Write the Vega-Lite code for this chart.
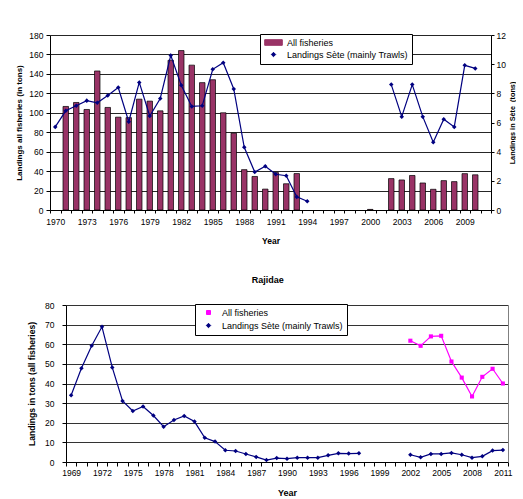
{
  "$schema": "https://vega.github.io/schema/vega-lite/v6.json",
  "background": "white",
  "padding": {"left": 15, "top": 31, "right": 0, "bottom": 0},
  "config": {
    "font": "Liberation Sans",
    "view": {"stroke": null},
    "axis": {
      "labelFont": "Liberation Sans", "titleFont": "Liberation Sans",
      "labelColor": "#000", "titleColor": "#000",
      "domainColor": "#000", "tickColor": "#000", "gridColor": "#000",
      "labelFontSize": 8.5, "titleFontWeight": "bold"
    },
    "legend": {"labelFont": "Liberation Sans", "labelColor": "#000"},
    "title": {"font": "Liberation Sans", "color": "#000"}
  },
  "spacing": 31,
  "resolve": {"scale": {"color": "independent", "shape": "independent"}, "legend": {"color": "independent", "shape": "independent"}},
  "vconcat": [
    {
      "width": 441,
      "height": 175,
      "layer": [
        {
          "data": {"values": [
            {"year": 1971, "tons": 106.5, "series": "All fisheries"},
            {"year": 1972, "tons": 110.6, "series": "All fisheries"},
            {"year": 1973, "tons": 103.4, "series": "All fisheries"},
            {"year": 1974, "tons": 143, "series": "All fisheries"},
            {"year": 1975, "tons": 105.5, "series": "All fisheries"},
            {"year": 1976, "tons": 95.5, "series": "All fisheries"},
            {"year": 1977, "tons": 95, "series": "All fisheries"},
            {"year": 1978, "tons": 114, "series": "All fisheries"},
            {"year": 1979, "tons": 112, "series": "All fisheries"},
            {"year": 1980, "tons": 102, "series": "All fisheries"},
            {"year": 1981, "tons": 154, "series": "All fisheries"},
            {"year": 1982, "tons": 164, "series": "All fisheries"},
            {"year": 1983, "tons": 149, "series": "All fisheries"},
            {"year": 1984, "tons": 131, "series": "All fisheries"},
            {"year": 1985, "tons": 134, "series": "All fisheries"},
            {"year": 1986, "tons": 100, "series": "All fisheries"},
            {"year": 1987, "tons": 79, "series": "All fisheries"},
            {"year": 1988, "tons": 41.5, "series": "All fisheries"},
            {"year": 1989, "tons": 34.5, "series": "All fisheries"},
            {"year": 1990, "tons": 21.5, "series": "All fisheries"},
            {"year": 1991, "tons": 38.5, "series": "All fisheries"},
            {"year": 1992, "tons": 27, "series": "All fisheries"},
            {"year": 1993, "tons": 37.5, "series": "All fisheries"},
            {"year": 2000, "tons": 0.6, "series": "All fisheries"},
            {"year": 2002, "tons": 32.3, "series": "All fisheries"},
            {"year": 2003, "tons": 30.9, "series": "All fisheries"},
            {"year": 2004, "tons": 35.5, "series": "All fisheries"},
            {"year": 2005, "tons": 27.8, "series": "All fisheries"},
            {"year": 2006, "tons": 21.3, "series": "All fisheries"},
            {"year": 2007, "tons": 30.2, "series": "All fisheries"},
            {"year": 2008, "tons": 29.2, "series": "All fisheries"},
            {"year": 2009, "tons": 37.4, "series": "All fisheries"},
            {"year": 2010, "tons": 36.2, "series": "All fisheries"}
          ]},
          "mark": {"type": "bar", "width": 5.5, "stroke": "#000", "strokeWidth": 0.7},
          "encoding": {
            "x": {
              "field": "year", "type": "ordinal",
              "scale": {"type": "band", "paddingInner": 0, "paddingOuter": 0,
                "domain": [1970,1971,1972,1973,1974,1975,1976,1977,1978,1979,1980,1981,1982,1983,1984,1985,1986,1987,1988,1989,1990,1991,1992,1993,1994,1995,1996,1997,1998,1999,2000,2001,2002,2003,2004,2005,2006,2007,2008,2009,2010,2011]},
              "axis": {
                "title": "Year", "titleFontSize": 8.5, "titlePadding": 11,
                "labelAngle": 0, "tickBand": "extent", "labelOverlap": false,
                "labelExpr": "(datum.value - 1970) % 3 == 0 ? datum.label : ''",
                "tickSize": 3, "labelPadding": 4, "grid": false
              }
            },
            "y": {
              "field": "tons", "type": "quantitative",
              "scale": {"domain": [0, 180]},
              "axis": {
                "title": "Landings all fisheries (in tons)", "titleFontSize": 8,
                "values": [0,20,40,60,80,100,120,140,160,180],
                "grid": true, "gridColor": "#000", "gridWidth": 1, "gridOpacity": 0.85,
                "tickSize": 4, "labelPadding": 3, "titlePadding": 5
              }
            },
            "color": {
              "field": "series", "type": "nominal",
              "scale": {"domain": ["All fisheries", "Landings Sète (mainly Trawls)"], "range": ["#993366", "#000080"]},
              "legend": {
                "title": null, "orient": "none", "legendX": 210, "legendY": -1,
                "fillColor": "#fff", "strokeColor": "#000", "padding": 4,
                "labelFontSize": 9, "symbolSize": 64, "symbolStrokeWidth": 1,
                "rowPadding": 2, "labelOffset": 9, "symbolOffset": 5
              }
            }
          }
        },
        {
          "data": {"values": [
            {"year": 1970, "tons": 5.7, "seg": "a", "series": "Landings Sète (mainly Trawls)"},
            {"year": 1971, "tons": 6.8, "seg": "a", "series": "Landings Sète (mainly Trawls)"},
            {"year": 1972, "tons": 7.15, "seg": "a", "series": "Landings Sète (mainly Trawls)"},
            {"year": 1973, "tons": 7.5, "seg": "a", "series": "Landings Sète (mainly Trawls)"},
            {"year": 1974, "tons": 7.35, "seg": "a", "series": "Landings Sète (mainly Trawls)"},
            {"year": 1975, "tons": 7.85, "seg": "a", "series": "Landings Sète (mainly Trawls)"},
            {"year": 1976, "tons": 8.4, "seg": "a", "series": "Landings Sète (mainly Trawls)"},
            {"year": 1977, "tons": 6.05, "seg": "a", "series": "Landings Sète (mainly Trawls)"},
            {"year": 1978, "tons": 8.75, "seg": "a", "series": "Landings Sète (mainly Trawls)"},
            {"year": 1979, "tons": 6.45, "seg": "a", "series": "Landings Sète (mainly Trawls)"},
            {"year": 1980, "tons": 7.65, "seg": "a", "series": "Landings Sète (mainly Trawls)"},
            {"year": 1981, "tons": 10.6, "seg": "a", "series": "Landings Sète (mainly Trawls)"},
            {"year": 1982, "tons": 8.55, "seg": "a", "series": "Landings Sète (mainly Trawls)"},
            {"year": 1983, "tons": 7.1, "seg": "a", "series": "Landings Sète (mainly Trawls)"},
            {"year": 1984, "tons": 7.15, "seg": "a", "series": "Landings Sète (mainly Trawls)"},
            {"year": 1985, "tons": 9.65, "seg": "a", "series": "Landings Sète (mainly Trawls)"},
            {"year": 1986, "tons": 10.1, "seg": "a", "series": "Landings Sète (mainly Trawls)"},
            {"year": 1987, "tons": 8.3, "seg": "a", "series": "Landings Sète (mainly Trawls)"},
            {"year": 1988, "tons": 4.3, "seg": "a", "series": "Landings Sète (mainly Trawls)"},
            {"year": 1989, "tons": 2.6, "seg": "a", "series": "Landings Sète (mainly Trawls)"},
            {"year": 1990, "tons": 3.0, "seg": "a", "series": "Landings Sète (mainly Trawls)"},
            {"year": 1991, "tons": 2.45, "seg": "a", "series": "Landings Sète (mainly Trawls)"},
            {"year": 1992, "tons": 2.35, "seg": "a", "series": "Landings Sète (mainly Trawls)"},
            {"year": 1993, "tons": 0.9, "seg": "a", "series": "Landings Sète (mainly Trawls)"},
            {"year": 1994, "tons": 0.6, "seg": "a", "series": "Landings Sète (mainly Trawls)"},
            {"year": 2002, "tons": 8.6, "seg": "b", "series": "Landings Sète (mainly Trawls)"},
            {"year": 2003, "tons": 6.4, "seg": "b", "series": "Landings Sète (mainly Trawls)"},
            {"year": 2004, "tons": 8.6, "seg": "b", "series": "Landings Sète (mainly Trawls)"},
            {"year": 2005, "tons": 6.4, "seg": "b", "series": "Landings Sète (mainly Trawls)"},
            {"year": 2006, "tons": 4.65, "seg": "b", "series": "Landings Sète (mainly Trawls)"},
            {"year": 2007, "tons": 6.23, "seg": "b", "series": "Landings Sète (mainly Trawls)"},
            {"year": 2008, "tons": 5.7, "seg": "b", "series": "Landings Sète (mainly Trawls)"},
            {"year": 2009, "tons": 9.92, "seg": "b", "series": "Landings Sète (mainly Trawls)"},
            {"year": 2010, "tons": 9.71, "seg": "b", "series": "Landings Sète (mainly Trawls)"}
          ]},
          "encoding": {
            "x": {"field": "year", "type": "ordinal"},
            "y": {
              "field": "tons", "type": "quantitative",
              "scale": {"domain": [0, 12]},
              "axis": {
                "orient": "right", "title": "Landings in Sète\u00a0 (tons)", "titleFontSize": 7.3,
                "titleAngle": 270, "titleBaseline": "top",
                "values": [0,2,4,6,8,10,12], "grid": false,
                "tickSize": 3, "labelPadding": 2, "titlePadding": 3
              }
            },
            "color": {"field": "series", "type": "nominal"}
          },
          "layer": [
            {"mark": {"type": "line", "strokeWidth": 1.2}, "encoding": {"detail": {"field": "seg"}}},
            {
              "mark": {"type": "point", "filled": true, "size": 67, "opacity": 1},
              "encoding": {
                "shape": {"field": "series", "type": "nominal",
                  "scale": {"domain": ["All fisheries", "Landings Sète (mainly Trawls)"],
                    "range": ["M-2.2,-0.7H2.2V0.7H-2.2Z", "M0,-0.55L0.55,0L0,0.55L-0.55,0Z"]}}
              }
            }
          ]
        }
      ],
      "resolve": {"scale": {"y": "independent"}}
    },
    {
      "width": 458,
      "height": 157,
      "title": {"text": "Rajidae", "fontSize": 9, "fontWeight": "bold", "offset": 16, "frame": "bounds", "dx": -2},
      "data": {"values": [
        {"year": 1969, "tons": 34, "seg": "a", "series": "Landings Sète (mainly Trawls)"},
        {"year": 1970, "tons": 47.8, "seg": "a", "series": "Landings Sète (mainly Trawls)"},
        {"year": 1971, "tons": 59.2, "seg": "a", "series": "Landings Sète (mainly Trawls)"},
        {"year": 1972, "tons": 68.9, "seg": "a", "series": "Landings Sète (mainly Trawls)"},
        {"year": 1973, "tons": 48.2, "seg": "a", "series": "Landings Sète (mainly Trawls)"},
        {"year": 1974, "tons": 31.1, "seg": "a", "series": "Landings Sète (mainly Trawls)"},
        {"year": 1975, "tons": 26, "seg": "a", "series": "Landings Sète (mainly Trawls)"},
        {"year": 1976, "tons": 28.3, "seg": "a", "series": "Landings Sète (mainly Trawls)"},
        {"year": 1977, "tons": 23.7, "seg": "a", "series": "Landings Sète (mainly Trawls)"},
        {"year": 1978, "tons": 18, "seg": "a", "series": "Landings Sète (mainly Trawls)"},
        {"year": 1979, "tons": 21.4, "seg": "a", "series": "Landings Sète (mainly Trawls)"},
        {"year": 1980, "tons": 23.5, "seg": "a", "series": "Landings Sète (mainly Trawls)"},
        {"year": 1981, "tons": 20.6, "seg": "a", "series": "Landings Sète (mainly Trawls)"},
        {"year": 1982, "tons": 12.3, "seg": "a", "series": "Landings Sète (mainly Trawls)"},
        {"year": 1983, "tons": 10.4, "seg": "a", "series": "Landings Sète (mainly Trawls)"},
        {"year": 1984, "tons": 6, "seg": "a", "series": "Landings Sète (mainly Trawls)"},
        {"year": 1985, "tons": 5.6, "seg": "a", "series": "Landings Sète (mainly Trawls)"},
        {"year": 1986, "tons": 4.1, "seg": "a", "series": "Landings Sète (mainly Trawls)"},
        {"year": 1987, "tons": 2.6, "seg": "a", "series": "Landings Sète (mainly Trawls)"},
        {"year": 1988, "tons": 1, "seg": "a", "series": "Landings Sète (mainly Trawls)"},
        {"year": 1989, "tons": 2, "seg": "a", "series": "Landings Sète (mainly Trawls)"},
        {"year": 1990, "tons": 1.7, "seg": "a", "series": "Landings Sète (mainly Trawls)"},
        {"year": 1991, "tons": 2.2, "seg": "a", "series": "Landings Sète (mainly Trawls)"},
        {"year": 1992, "tons": 2.2, "seg": "a", "series": "Landings Sète (mainly Trawls)"},
        {"year": 1993, "tons": 2.2, "seg": "a", "series": "Landings Sète (mainly Trawls)"},
        {"year": 1994, "tons": 3.4, "seg": "a", "series": "Landings Sète (mainly Trawls)"},
        {"year": 1995, "tons": 4.4, "seg": "a", "series": "Landings Sète (mainly Trawls)"},
        {"year": 1996, "tons": 4.3, "seg": "a", "series": "Landings Sète (mainly Trawls)"},
        {"year": 1997, "tons": 4.4, "seg": "a", "series": "Landings Sète (mainly Trawls)"},
        {"year": 2002, "tons": 3.7, "seg": "b", "series": "Landings Sète (mainly Trawls)"},
        {"year": 2003, "tons": 2.4, "seg": "b", "series": "Landings Sète (mainly Trawls)"},
        {"year": 2004, "tons": 4.1, "seg": "b", "series": "Landings Sète (mainly Trawls)"},
        {"year": 2005, "tons": 4.1, "seg": "b", "series": "Landings Sète (mainly Trawls)"},
        {"year": 2006, "tons": 4.6, "seg": "b", "series": "Landings Sète (mainly Trawls)"},
        {"year": 2007, "tons": 3.7, "seg": "b", "series": "Landings Sète (mainly Trawls)"},
        {"year": 2008, "tons": 2.2, "seg": "b", "series": "Landings Sète (mainly Trawls)"},
        {"year": 2009, "tons": 2.9, "seg": "b", "series": "Landings Sète (mainly Trawls)"},
        {"year": 2010, "tons": 5.8, "seg": "b", "series": "Landings Sète (mainly Trawls)"},
        {"year": 2011, "tons": 6.1, "seg": "b", "series": "Landings Sète (mainly Trawls)"},
        {"year": 2002, "tons": 61.8, "seg": "c", "series": "All fisheries"},
        {"year": 2003, "tons": 59.2, "seg": "c", "series": "All fisheries"},
        {"year": 2004, "tons": 64, "seg": "c", "series": "All fisheries"},
        {"year": 2005, "tons": 64.3, "seg": "c", "series": "All fisheries"},
        {"year": 2006, "tons": 51.2, "seg": "c", "series": "All fisheries"},
        {"year": 2007, "tons": 43, "seg": "c", "series": "All fisheries"},
        {"year": 2008, "tons": 33.4, "seg": "c", "series": "All fisheries"},
        {"year": 2009, "tons": 43.4, "seg": "c", "series": "All fisheries"},
        {"year": 2010, "tons": 47.5, "seg": "c", "series": "All fisheries"},
        {"year": 2011, "tons": 40, "seg": "c", "series": "All fisheries"}
      ]},
      "encoding": {
        "x": {
          "field": "year", "type": "ordinal",
          "scale": {"type": "band", "paddingInner": 0, "paddingOuter": 0, "range": [16, 458],
            "domain": [1969,1970,1971,1972,1973,1974,1975,1976,1977,1978,1979,1980,1981,1982,1983,1984,1985,1986,1987,1988,1989,1990,1991,1992,1993,1994,1995,1996,1997,1998,1999,2000,2001,2002,2003,2004,2005,2006,2007,2008,2009,2010,2011]},
          "axis": {
            "title": "Year", "titleFontSize": 9, "titlePadding": 12,
            "labelAngle": 0, "tickBand": "extent", "labelOverlap": false,
            "labelExpr": "(datum.value - 1969) % 3 == 0 ? datum.label : ''",
            "tickSize": 4, "labelPadding": 2, "grid": false
          }
        },
        "y": {
          "field": "tons", "type": "quantitative",
          "scale": {"domain": [0, 80]}
        },
        "color": {
          "field": "series", "type": "nominal",
          "scale": {"domain": ["All fisheries", "Landings Sète (mainly Trawls)"], "range": ["#ff00ff", "#000080"]},
          "legend": {
            "title": null, "orient": "none", "legendX": 145, "legendY": -1,
            "fillColor": "#fff", "strokeColor": "#000", "padding": 4,
            "labelFontSize": 9, "symbolSize": 64, "symbolStrokeWidth": 1,
            "rowPadding": 3, "labelOffset": 9, "symbolOffset": 5
          }
        }
      },
      "layer": [
        {
          "mark": {"type": "line", "strokeWidth": 1.2},
          "encoding": {
            "detail": {"field": "seg"},
            "y": {
              "field": "tons", "type": "quantitative",
              "axis": {
                "title": "Landings in tons (all fisheries)", "titleFontSize": 8.6,
                "values": [0,10,20,30,40,50,60,70,80], "offset": -16,
                "grid": true, "gridColor": "#333", "gridWidth": 1,
                "tickSize": 4, "labelPadding": 8, "titlePadding": 8
              }
            }
          }
        },
        {
          "mark": {"type": "point", "filled": true, "size": 67, "opacity": 1},
          "encoding": {
            "y": {
              "field": "tons", "type": "quantitative",
              "axis": {
                "orient": "right", "title": null, "labels": false, "ticks": false,
                "grid": false, "domainColor": "#808080"
              }
            },
            "shape": {"field": "series", "type": "nominal",
              "scale": {"domain": ["All fisheries", "Landings Sète (mainly Trawls)"],
                "range": ["M-0.5,-0.5H0.5V0.5H-0.5Z", "M0,-0.55L0.55,0L0,0.55L-0.55,0Z"]}}
          }
        }
      ],
      "resolve": {"axis": {"y": "independent"}}
    }
  ]
}
